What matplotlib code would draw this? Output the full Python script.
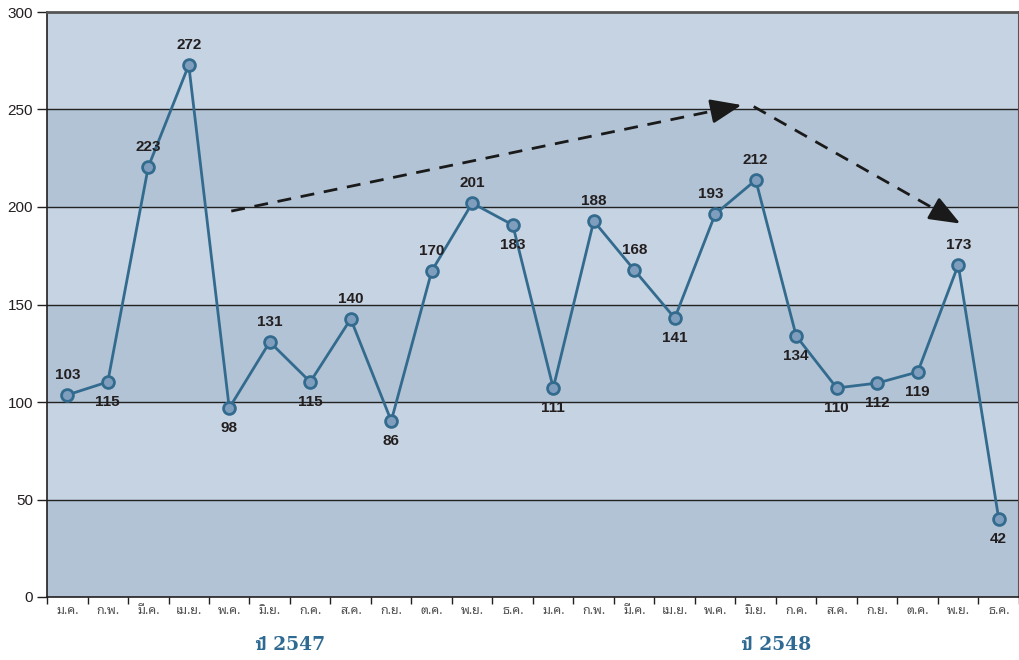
import matplotlib
matplotlib.use("Agg")
import matplotlib.pyplot as plt
import numpy as np

# เดือน (2 ปี)
months = ['ม.ค.', 'ก.พ.', 'มี.ค.', 'เม.ย.', 'พ.ค.', 'มิ.ย.',
          'ก.ค.', 'ส.ค.', 'ก.ย.', 'ต.ค.', 'พ.ย.', 'ธ.ค.']
tick_labels = months + months
years = ['ปี 2547', 'ปี 2548']

# ตำแหน่งจุดตามที่อ่านได้จากภาพ
values = [103.6, 110.3, 220.5, 272.8, 96.9, 130.8, 110.3, 142.6, 90.3, 167.2, 202.0, 190.8,
          107.2, 192.8, 167.7, 143.0, 196.4, 213.8, 133.8, 107.2, 109.7, 115.4, 170.3, 40.0]
# ตัวเลขที่เขียนกำกับ
point_labels = [103, 115, 223, 272, 98, 131, 115, 140, 86, 170, 201, 183,
                111, 188, 168, 141, 193, 212, 134, 110, 112, 119, 173, 42]
# 1 = บน, -1 = ล่าง
label_side = [1, -1, 1, 1, -1, 1, -1, 1, -1, 1, 1, -1,
              -1, 1, 1, -1, 1, 1, -1, -1, -1, -1, 1, -1]

# ลูกศรแนวโน้ม (จุดเริ่ม, จุดปลาย)
trend_arrows = [((4.05, 197.9), (16.65, 252.3)),
                ((16.95, 251.5), (22.05, 191.5))]

line_color = '#336b8e'
marker_face = '#7f9ebd'
band_light = '#c6d3e2'
band_dark = '#b1c3d5'

fig = plt.figure(figsize=(10.2, 6.6), dpi=100)
ax = fig.add_axes([47 / 1020, 63 / 660, 972 / 1020, 585 / 660])

x = np.arange(len(values))
ax.set_xlim(-0.5, len(values) - 0.5)
ax.set_ylim(0, 300)

# แถบสีพื้นหลัง
for i, y0 in enumerate(range(0, 300, 50)):
    ax.axhspan(y0, y0 + 50, color=band_dark if i % 2 == 0 else band_light, zorder=0, lw=0)
for y in range(50, 300, 50):
    ax.axhline(y, color='#222222', lw=1.0, zorder=1)

ax.plot(x, values, color=line_color, lw=2, marker='o', markersize=8.5,
        markerfacecolor=marker_face, markeredgecolor=line_color, markeredgewidth=2, zorder=3)

for xi, v, lab, side in zip(x, values, point_labels, label_side):
    dx = 0
    if lab == 193:
        dx = -0.1
    ax.annotate(str(lab), (xi + dx, v), xytext=(0, 14.5 * side), textcoords='offset points',
                ha='center', va='center', fontsize=11, fontweight='bold',
                color='#231f20', family='Liberation Sans', zorder=4)

# เส้นประ + หัวลูกศรทึบ
for (x0, y0), (x1, y1) in trend_arrows:
    p0 = ax.transData.transform((x0, y0))
    p1 = ax.transData.transform((x1, y1))
    d = (p1 - p0) / np.hypot(*(p1 - p0))
    mid = ax.transData.inverted().transform(p1 - d * 18)
    ax.plot([x0, mid[0]], [y0, mid[1]], color='#1a1a1a', lw=2.0,
            linestyle=(0, (5, 3.5)), zorder=5)
    ax.annotate('', xy=(x1, y1), xytext=(mid[0], mid[1]),
                arrowprops=dict(arrowstyle='-|>,head_length=1.9,head_width=0.75',
                                color='#1a1a1a', lw=2.0, shrinkA=0, shrinkB=0), zorder=5)

# แกน
ax.set_yticks(range(0, 301, 50))
ax.tick_params(axis='y', labelsize=11, length=7, width=1, colors='#231f20', pad=3)
for t in ax.get_yticklabels():
    t.set_family('Liberation Sans')

ax.set_xticks(np.arange(-0.5, len(values), 1))
ax.set_xticklabels([])
ax.tick_params(axis='x', length=5, width=1, colors='#231f20', direction='out')
for i, lab in enumerate(tick_labels):
    ax.text(i, -3.5, lab, ha='center', va='top', fontsize=9, color='#505050',
            family=['Noto Sans Thai Looped', 'DejaVu Sans'])

for i, yr in enumerate(years):
    ax.text(5.5 + 12 * i, -24.5, yr, ha='center', va='center', fontsize=13.5, fontweight='bold',
            color='#2f6a92', family=['DejaVu Serif', 'FreeSerif'])

for s in ['left', 'bottom']:
    ax.spines[s].set_color('#231f20')
    ax.spines[s].set_linewidth(1.2)
ax.spines['top'].set_color('#555555')
ax.spines['top'].set_linewidth(2)
ax.spines['right'].set_color('#555555')
ax.spines['right'].set_linewidth(1.5)

fig.savefig('out.png', dpi=100)
